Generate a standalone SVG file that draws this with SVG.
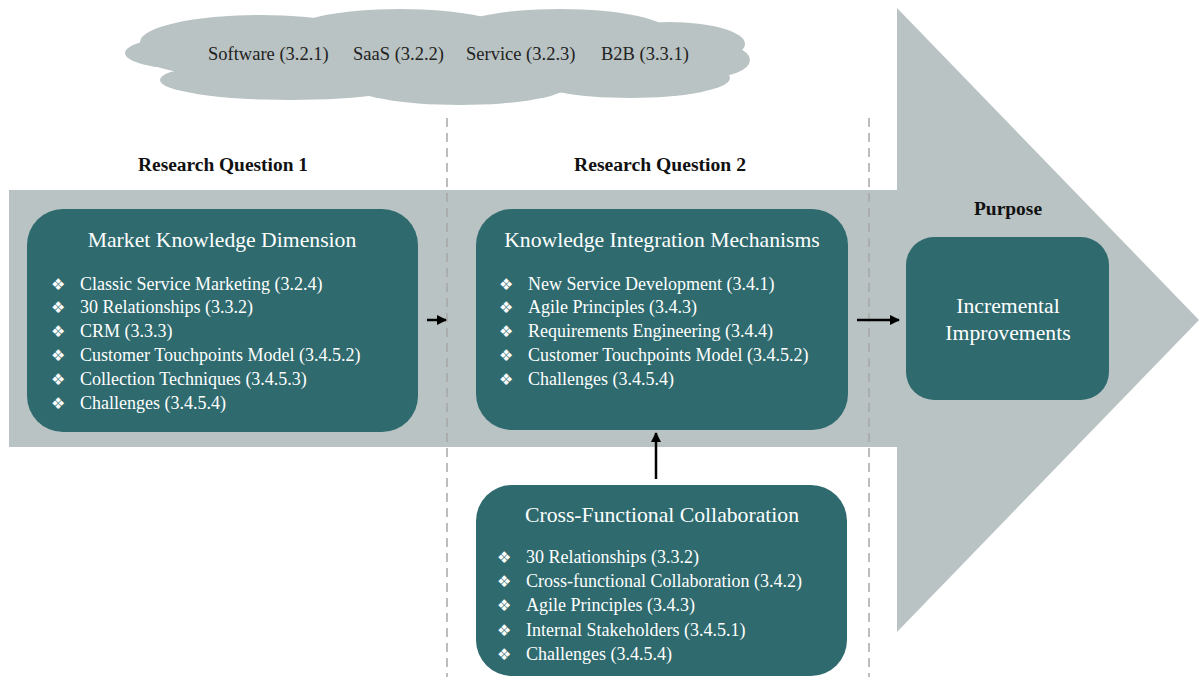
<svg xmlns="http://www.w3.org/2000/svg" width="1199" height="677" viewBox="0 0 1199 677">
  <style>
    .bg { fill: #b9c3c3; }
    .box { fill: #2e6a6e; }
    .title { font-family: "Liberation Serif", serif; font-size: 21.7px; fill: #ffffff; text-anchor: middle; }
    .item { font-family: "Liberation Serif", serif; font-size: 18px; fill: #ffffff; }
    .bullet { font-family: "DejaVu Sans", sans-serif; font-size: 16px; fill: #ffffff; }
    .head { font-family: "Liberation Serif", serif; font-size: 18px; font-weight: bold; fill: #111111; text-anchor: middle; }
    .topic { font-family: "Liberation Serif", serif; font-size: 18.5px; fill: #222222; }
    .guide { stroke: #a8a8a8; stroke-width: 1.5; stroke-dasharray: 9 6; fill: none; }
    .link { stroke: #000000; stroke-width: 2.5; fill: none; marker-end: url(#head); }
  </style>
  <defs>
    <marker id="head" viewBox="0 0 10 10" refX="9" refY="5" markerWidth="4" markerHeight="4" orient="auto" markerUnits="strokeWidth">
      <path d="M0,0 L10,5 L0,10 z" fill="#000000"/>
    </marker>
  </defs>

  <rect width="1199" height="677" fill="#ffffff"/>

  <!-- big arrow: band plus head -->
  <g id="flow-arrow">
    <path class="bg" d="M9,190 L897,190 L897,8 L1199,320 L897,632 L897,447 L9,447 Z"/>
  </g>

  <!-- topic cloud -->
  <g id="topics">
    <g class="bg">
      <ellipse cx="440" cy="55" rx="300" ry="35"/>
      <ellipse cx="260" cy="42" rx="120" ry="27"/>
      <ellipse cx="400" cy="32" rx="110" ry="23"/>
      <ellipse cx="560" cy="33" rx="110" ry="24"/>
      <ellipse cx="670" cy="44" rx="75" ry="22"/>
      <ellipse cx="185" cy="53" rx="60" ry="16"/>
      <ellipse cx="705" cy="60" rx="45" ry="18"/>
      <ellipse cx="290" cy="80" rx="130" ry="20"/>
      <ellipse cx="460" cy="84" rx="110" ry="21"/>
      <ellipse cx="630" cy="78" rx="100" ry="20"/>
    </g>
    <text class="topic" x="208" y="60">Software (3.2.1)</text>
    <text class="topic" x="353" y="60">SaaS (3.2.2)</text>
    <text class="topic" x="466" y="60">Service (3.2.3)</text>
    <text class="topic" x="601" y="60">B2B (3.3.1)</text>
  </g>

  <!-- column separators -->
  <g id="separators">
    <line class="guide" x1="447" y1="118" x2="447" y2="677"/>
    <line class="guide" x1="869" y1="118" x2="869" y2="677"/>
  </g>

  <!-- column headings -->
  <g id="headings">
    <text class="head" x="223" y="171" textLength="170" lengthAdjust="spacingAndGlyphs">Research Question 1</text>
    <text class="head" x="660" y="171" textLength="172" lengthAdjust="spacingAndGlyphs">Research Question 2</text>
    <text class="head" x="1008" y="215" textLength="68" lengthAdjust="spacingAndGlyphs">Purpose</text>
  </g>

  <g id="market-knowledge">
    <rect class="box" x="27" y="209" width="391" height="223" rx="36"/>
    <text class="title" x="222" y="247">Market Knowledge Dimension</text>
    <g class="bullet">
      <text x="51" y="290">❖</text>
      <text x="51" y="313">❖</text>
      <text x="51" y="337">❖</text>
      <text x="51" y="361">❖</text>
      <text x="51" y="385">❖</text>
      <text x="51" y="409">❖</text>
    </g>
    <text class="item" x="80" y="290">Classic Service Marketing (3.2.4)</text>
    <text class="item" x="80" y="313">30 Relationships (3.3.2)</text>
    <text class="item" x="80" y="337">CRM (3.3.3)</text>
    <text class="item" x="80" y="361">Customer Touchpoints Model (3.4.5.2)</text>
    <text class="item" x="80" y="385">Collection Techniques (3.4.5.3)</text>
    <text class="item" x="80" y="409">Challenges (3.4.5.4)</text>
  </g>

  <g id="knowledge-integration">
    <rect class="box" x="476" y="209" width="372" height="221" rx="36"/>
    <text class="title" x="662" y="247">Knowledge Integration Mechanisms</text>
    <g class="bullet">
      <text x="499" y="290">❖</text>
      <text x="499" y="313">❖</text>
      <text x="499" y="337">❖</text>
      <text x="499" y="361">❖</text>
      <text x="499" y="385">❖</text>
    </g>
    <text class="item" x="528" y="290">New Service Development (3.4.1)</text>
    <text class="item" x="528" y="313">Agile Principles (3.4.3)</text>
    <text class="item" x="528" y="337">Requirements Engineering (3.4.4)</text>
    <text class="item" x="528" y="361">Customer Touchpoints Model (3.4.5.2)</text>
    <text class="item" x="528" y="385">Challenges (3.4.5.4)</text>
  </g>

  <g id="cross-functional">
    <rect class="box" x="476" y="485" width="371" height="191" rx="36"/>
    <text class="title" x="662" y="522">Cross-Functional Collaboration</text>
    <g class="bullet">
      <text x="497" y="563">❖</text>
      <text x="497" y="587">❖</text>
      <text x="497" y="611">❖</text>
      <text x="497" y="636">❖</text>
      <text x="497" y="660">❖</text>
    </g>
    <text class="item" x="526" y="563">30 Relationships (3.3.2)</text>
    <text class="item" x="526" y="587">Cross-functional Collaboration (3.4.2)</text>
    <text class="item" x="526" y="611">Agile Principles (3.4.3)</text>
    <text class="item" x="526" y="636">Internal Stakeholders (3.4.5.1)</text>
    <text class="item" x="526" y="660">Challenges (3.4.5.4)</text>
  </g>

  <g id="incremental-improvements">
    <rect class="box" x="906" y="237" width="203" height="163" rx="28"/>
    <text class="title" x="1008" y="313">Incremental</text>
    <text class="title" x="1008" y="340">Improvements</text>
  </g>

  <g id="connectors">
    <line class="link" x1="427" y1="320" x2="446" y2="320"/>
    <line class="link" x1="857" y1="320" x2="899" y2="320"/>
    <line class="link" x1="656" y1="479" x2="656" y2="433"/>
  </g>
</svg>
